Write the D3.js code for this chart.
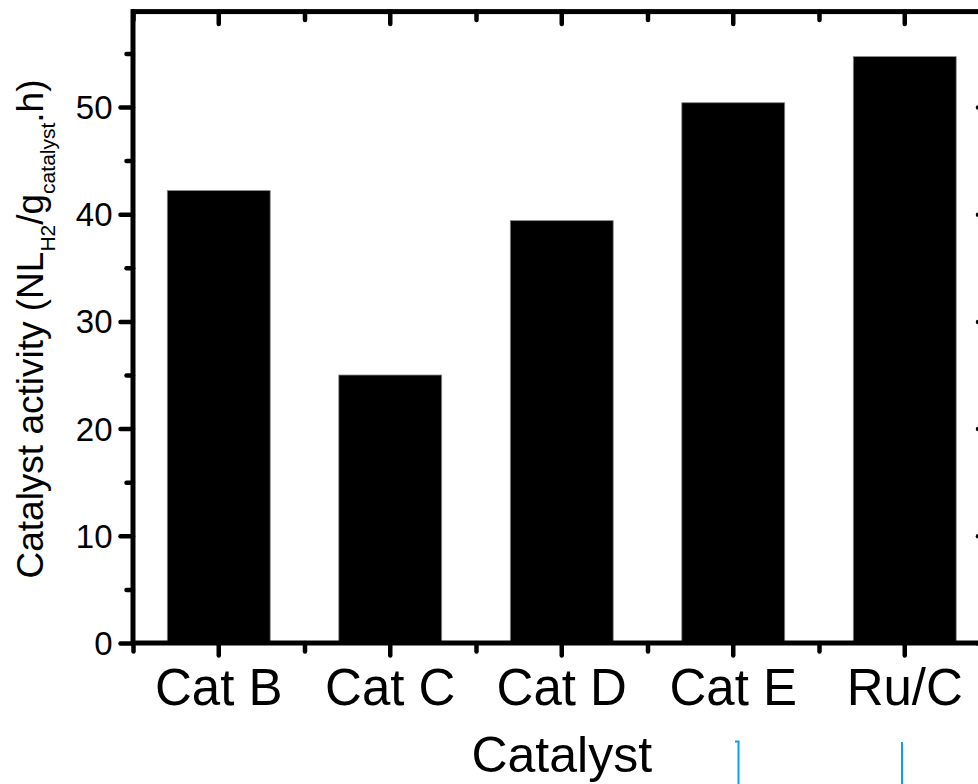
<!DOCTYPE html>
<html lang="en">
<head>
    <meta charset="UTF-8">
    <title>Catalyst activity</title>
    <script src="https://d3js.org/d3.v7.min.js"></script>
    <style>
        body { margin: 0; background: #fff; }
        text { font-family: "Liberation Sans", Arial, sans-serif; fill: #000; }
    </style>
</head>
<body>
    <div id="chart"></div>
    <script>
        // data
        const categories = ["Cat B", "Cat C", "Cat D", "Cat E", "Ru/C"];
        const activity = [42.2, 25.0, 39.4, 50.4, 54.7];
        const yMajorTicks = [0, 10, 20, 30, 40, 50];
        const yMinorTicks = [5, 15, 25, 35, 45, 55];

        const data = categories.map((c, i) => ({cat: c, value: activity[i]}));

        const W = 978, H = 784;
        // plot frame (right edge falls outside the window, as in the source)
        const frame = {left: 133, right: 990.5, top: 11.6, bottom: 643};

        const svg = d3.select("#chart")
            .append("svg")
            .attr("width", W)
            .attr("height", H);

        const x = d3.scaleBand()
            .domain(categories)
            .range([frame.left, frame.right])
            .padding(0);

        // band edges for the minor ticks on the category axis
        const xEdge = d3.scaleLinear()
            .domain([0, categories.length])
            .range([frame.left, frame.right]);

        const y = d3.scaleLinear()
            .domain([0, 58.9])
            .range([frame.bottom, frame.top]);

        // bars
        svg.append("g")
            .selectAll("rect")
            .data(data)
            .join("rect")
            .attr("x", d => x(d.cat) + x.bandwidth() * 0.2)
            .attr("width", x.bandwidth() * 0.6)
            .attr("y", d => y(d.value))
            .attr("height", d => y(0) - y(d.value))
            .attr("fill", "#000")
            .attr("stroke", "#888")
            .attr("stroke-width", 0.8);

        const majorLen = 12.5, minorLen = 6.5;

        function styleTicks(g) {
            g.select(".domain").remove();
            g.selectAll(".tick line")
                .attr("stroke", "#000")
                .attr("stroke-width", 4.5)
                .attr("stroke-linecap", "round");
        }

        // left axis, ticks outward
        svg.append("g")
            .attr("transform", `translate(${frame.left},0)`)
            .call(d3.axisLeft(y).tickValues(yMinorTicks).tickSize(minorLen).tickFormat(""))
            .call(styleTicks);

        svg.append("g")
            .attr("transform", `translate(${frame.left},0)`)
            .call(d3.axisLeft(y).tickValues(yMajorTicks).tickSize(majorLen).tickPadding(8))
            .call(styleTicks)
            .call(g => g.selectAll("text")
                .attr("font-size", 33)
                .attr("dy", "0.35em"));

        // right axis, ticks inward
        svg.append("g")
            .attr("transform", `translate(${frame.right},0)`)
            .call(d3.axisLeft(y).tickValues(yMinorTicks).tickSize(minorLen).tickFormat(""))
            .call(styleTicks);
        svg.append("g")
            .attr("transform", `translate(${frame.right},0)`)
            .call(d3.axisLeft(y).tickValues(yMajorTicks).tickSize(majorLen).tickFormat(""))
            .call(styleTicks);

        // bottom axis, ticks outward
        svg.append("g")
            .attr("transform", `translate(0,${frame.bottom})`)
            .call(d3.axisBottom(xEdge).tickValues(d3.range(categories.length + 1)).tickSize(minorLen + 2).tickFormat(""))
            .call(styleTicks);

        svg.append("g")
            .attr("transform", `translate(0,${frame.bottom})`)
            .call(d3.axisBottom(x).tickSize(majorLen))
            .call(styleTicks)
            .call(g => g.selectAll("text")
                .attr("font-size", 51)
                .attr("y", 62)
                .attr("dy", null));

        // top axis, ticks inward
        svg.append("g")
            .attr("transform", `translate(0,${frame.top})`)
            .call(d3.axisBottom(xEdge).tickValues(d3.range(categories.length + 1)).tickSize(minorLen + 2).tickFormat(""))
            .call(styleTicks);
        svg.append("g")
            .attr("transform", `translate(0,${frame.top})`)
            .call(d3.axisBottom(x).tickSize(majorLen).tickFormat(""))
            .call(styleTicks);

        // frame
        svg.append("rect")
            .attr("x", frame.left)
            .attr("y", frame.top)
            .attr("width", frame.right - frame.left)
            .attr("height", frame.bottom - frame.top)
            .attr("fill", "none")
            .attr("stroke", "#000")
            .attr("stroke-width", 5);

        // axis titles
        svg.append("text")
            .attr("x", (frame.left + frame.right) / 2)
            .attr("y", 772)
            .attr("text-anchor", "middle")
            .attr("font-size", 50)
            .text("Catalyst");

        const yTitle = svg.append("text")
            .attr("transform", "translate(43,329) rotate(-90)")
            .attr("text-anchor", "middle")
            .attr("font-size", 37);
        yTitle.append("tspan").text("Catalyst activity (NL");
        yTitle.append("tspan").attr("font-size", 21).attr("dy", 12).text("H2");
        yTitle.append("tspan").attr("dy", -12).text("/g");
        yTitle.append("tspan").attr("font-size", 21).attr("dy", 12).text("catalyst");
        yTitle.append("tspan").attr("dy", -12).text(".h)");

        // two small blue marks below the axis in the source image
        svg.append("path")
            .attr("d", "M735,741.5 L738.5,741.5 L738.5,784")
            .attr("fill", "none")
            .attr("stroke", "#0aa0f5")
            .attr("stroke-width", 2);
        svg.append("line")
            .attr("x1", 902).attr("x2", 902)
            .attr("y1", 742).attr("y2", 784)
            .attr("stroke", "#0aa0f5")
            .attr("stroke-width", 2);
    </script>
</body>
</html>
